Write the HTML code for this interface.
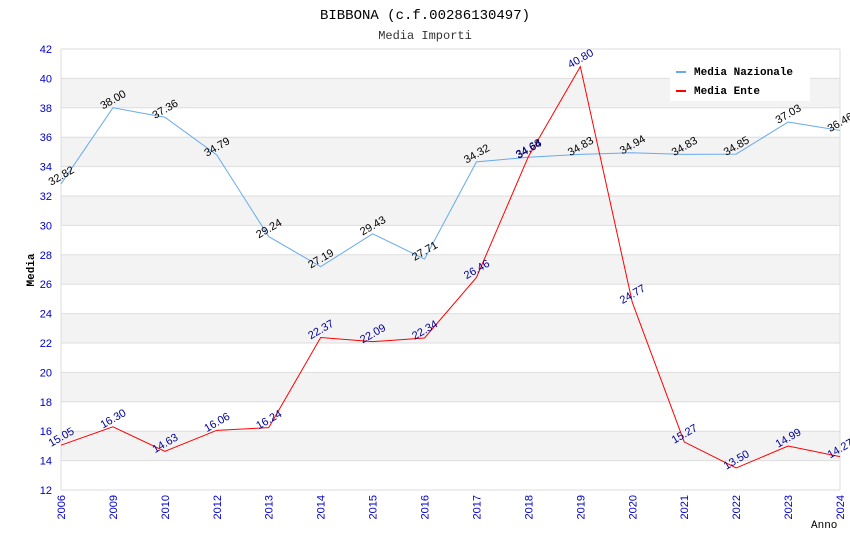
<!DOCTYPE html>
<html><head><meta charset="utf-8"><style>
body{margin:0;background:#fff;}
svg{display:block;}
</style></head><body>
<svg id="chart" width="850" height="550" xmlns="http://www.w3.org/2000/svg">
<text x="425" y="19" text-anchor="middle" font-family="Liberation Mono, monospace" font-size="14" fill="#000">BIBBONA (c.f.00286130497)</text>
<text x="425" y="39" text-anchor="middle" font-family="Liberation Mono, monospace" font-size="12" fill="#333">Media Importi</text>
<g id="bands"></g>
<g id="grid"></g>
<g id="axes"></g>
<g id="series"></g>
<g id="labels"></g>
<text transform="translate(34,270) rotate(-90)" text-anchor="middle" font-family="Liberation Mono, monospace" font-size="11" font-weight="bold" fill="#000">Media</text>
<text x="811" y="528" font-family="Liberation Mono, monospace" font-size="11" fill="#000">Anno</text>
<g>
<rect x="670" y="60" width="140" height="41" fill="#fff"/>
<g>
<line x1="676" y1="72" x2="686" y2="72" stroke="#66aaee" stroke-width="2"/>
<text x="694" y="75" font-family="Liberation Mono, monospace" font-size="11" font-weight="bold" fill="#000">Media Nazionale</text></g>
<g>
<line x1="676" y1="91" x2="686" y2="91" stroke="#ff0000" stroke-width="2"/>
<text x="694" y="94" font-family="Liberation Mono, monospace" font-size="11" font-weight="bold" fill="#000">Media Ente</text></g>
</g>
</svg>
<script>
const categories=["2006","2009","2010","2012","2013","2014","2015","2016","2017","2018","2019","2020","2021","2022","2023","2024"];
const nazionale=[32.82,38.00,37.36,34.79,29.24,27.19,29.43,27.71,34.32,34.64,34.83,34.94,34.83,34.85,37.03,36.46];
const ente=[15.05,16.30,14.63,16.06,16.24,22.37,22.09,22.34,26.46,34.68,40.80,24.77,15.27,13.50,14.99,14.27];
const yTicks=[12,14,16,18,20,22,24,26,28,30,32,34,36,38,40,42];
const NS="http://www.w3.org/2000/svg";
const X0=61,X1=840,Y0=490,Y1=49,YMIN=12,YMAX=42;
function xs(i){return X0+(X1-X0)*i/(categories.length-1);}
function ys(v){return Y0-(v-YMIN)/(YMAX-YMIN)*(Y0-Y1);}
function mk(tag,attrs,parent){const e=document.createElementNS(NS,tag);for(const k in attrs)e.setAttribute(k,attrs[k]);document.getElementById(parent).appendChild(e);return e;}
for(let v=14;v<40;v+=4){
 const r=mk('rect',{x:X0,y:ys(v+2),width:X1-X0,height:ys(v)-ys(v+2),fill:'#f3f3f3'},'bands');
 
 
}
yTicks.forEach(v=>{
 const l=mk('line',{x1:X0,x2:X1,y1:ys(v),y2:ys(v),stroke:'#dddddd','stroke-width':1},'grid');
 
 
 const t=mk('text',{x:X0-9,y:ys(v)+4,'text-anchor':'end','font-family':'Liberation Sans, sans-serif','font-size':11,fill:'#0000cc'},'axes');
 t.textContent=v;
 
 
});
mk('line',{x1:X1,x2:X1,y1:Y1,y2:Y0,stroke:'#dddddd'},'grid');
mk('line',{x1:X0,x2:X0,y1:Y1,y2:Y0,stroke:'#dddddd'},'grid');
categories.forEach((c,i)=>{
 const t=mk('text',{transform:`translate(${xs(i)+4},${Y0+5}) rotate(-90)`,'text-anchor':'end','font-family':'Liberation Sans, sans-serif','font-size':11,fill:'#0000cc'},'axes');
 t.textContent=c;
 
 
});
function series(data,color,lblColor,name){
 const p=mk('polyline',{points:data.map((v,i)=>xs(i)+','+ys(v)).join(' '),fill:'none',stroke:color,'stroke-width':1},'series');
 
 
 data.forEach((v,i)=>{
  const t=mk('text',{transform:`translate(${xs(i)+2},${ys(v)-5}) rotate(-30)`,'text-anchor':'middle','font-family':'Liberation Sans, sans-serif','font-size':11,fill:lblColor},'labels');
  t.textContent=v.toFixed(2);
  
  
 });
}
series(nazionale,'#66aaee','#000','media-nazionale-line');
series(ente,'#ff0000','#000099','media-ente-line');
</script>
</body></html>
